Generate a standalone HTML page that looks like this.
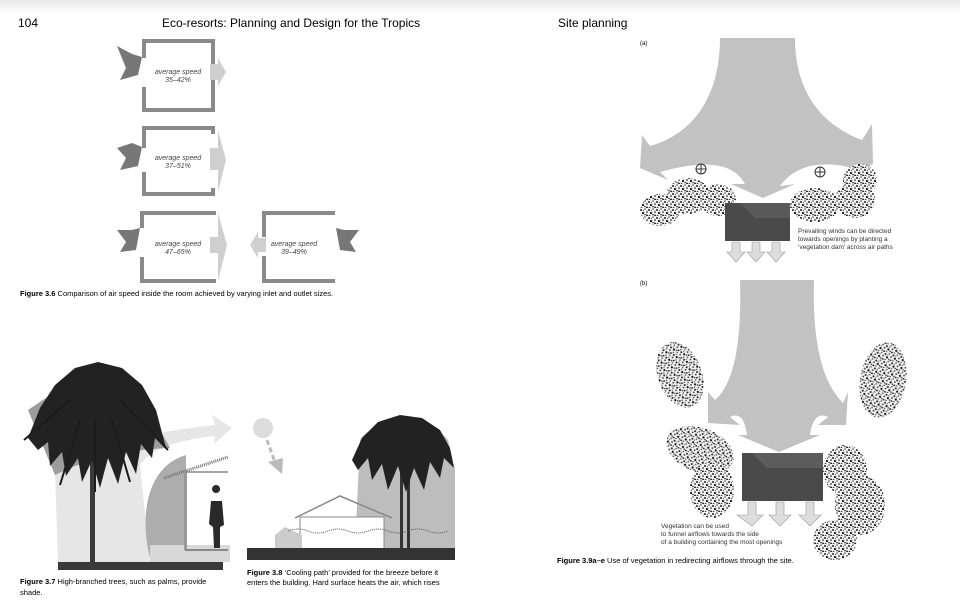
<!DOCTYPE html>
<html><head><meta charset="utf-8">
<style>
html,body{margin:0;padding:0;background:#fff;}
svg{display:block;}
text{font-family:"Liberation Sans",sans-serif;}
</style></head>
<body>
<svg width="960" height="608" viewBox="0 0 960 608" xmlns="http://www.w3.org/2000/svg">
<defs>
<linearGradient id="top" x1="0" y1="0" x2="0" y2="1"><stop offset="0" stop-color="#e8e8e8"/><stop offset="1" stop-color="#fff"/></linearGradient>
<pattern id="veg" width="8" height="8" patternUnits="userSpaceOnUse">
<rect width="8" height="8" fill="#f4f4f4"/>
<circle cx="1" cy="2" r="1" fill="#222"/><circle cx="5" cy="1" r="0.8" fill="#444"/>
<circle cx="3" cy="5" r="1.1" fill="#111"/><circle cx="7" cy="4" r="0.9" fill="#333"/>
<circle cx="7" cy="7.5" r="1" fill="#222"/><circle cx="1.5" cy="7.5" r="0.8" fill="#444"/>
<circle cx="5" cy="6.5" r="0.8" fill="#333"/><circle cx="3.5" cy="2.5" r="0.6" fill="#555"/>
</pattern>
</defs>
<rect width="960" height="608" fill="#fff"/>
<rect width="960" height="14" fill="url(#top)"/>

<text x="18" y="27" font-size="12">104</text>
<text x="162" y="27" font-size="12">Eco-resorts: Planning and Design for the Tropics</text>
<text x="558" y="27" font-size="12">Site planning</text>

<!-- Figure 3.6 -->
<g fill="#8a8a8a">
 <rect x="142" y="39" width="73" height="4"/><rect x="142" y="108" width="73" height="4"/>
 <rect x="142" y="39" width="4" height="19"/><rect x="142" y="87" width="4" height="25"/>
 <rect x="211" y="39" width="4" height="25"/><rect x="211" y="80" width="4" height="32"/>
 <rect x="142" y="126" width="73" height="4"/><rect x="142" y="192" width="73" height="4"/>
 <rect x="142" y="126" width="4" height="22"/><rect x="142" y="172" width="4" height="24"/>
 <rect x="211" y="126" width="4" height="8"/><rect x="211" y="188" width="4" height="8"/>
 <rect x="140" y="211" width="76" height="4"/><rect x="140" y="279" width="76" height="4"/>
 <rect x="140" y="211" width="4" height="17"/><rect x="140" y="257" width="4" height="26"/>
 <rect x="262" y="211" width="73" height="4"/><rect x="262" y="279" width="73" height="4"/>
 <rect x="262" y="211" width="4" height="26"/><rect x="262" y="256" width="4" height="27"/>
</g>
<g fill="#cfcfcf">
 <polygon points="210,64 218,64 218,58 226,72 218,86 218,80 210,80"/>
 <polygon points="210,148 218,148 218,130 226,160 218,192 218,170 210,170"/>
 <polygon points="210,237 218,237 218,213 227,245 218,281 218,253 210,253"/>
 <polygon points="266,238 258,238 258,232 250,245 258,258 258,252 266,252"/>
</g>
<g fill="#777">
 <polygon points="117,46 132,54 142,57 138,75 120,80 126,68"/>
 <polygon points="117,148 132,143 142,147 138,166 120,170 126,158"/>
 <polygon points="117,230 132,230 140,228 136,250 120,252 126,242"/>
 <polygon points="359,230 344,230 336,228 340,250 356,252 350,242"/>
</g>
<g font-size="7" font-style="italic" fill="#444" text-anchor="middle">
 <text x="178" y="74">average speed</text><text x="178" y="82">35–42%</text>
 <text x="178" y="160">average speed</text><text x="178" y="168">37–51%</text>
 <text x="178" y="246">average speed</text><text x="178" y="254">47–65%</text>
 <text x="294" y="246">average speed</text><text x="294" y="254">39–49%</text>
</g>
<text x="20" y="296" font-size="7.5"><tspan font-weight="bold">Figure 3.6</tspan>   Comparison of air speed inside the room achieved by varying inlet and outlet sizes.</text>

<!-- Figure 3.7 -->
<path d="M55,470 C90,445 150,432 215,425 L212,415 L232,428 L214,444 L215,436 C175,440 150,450 140,465 L150,562 L58,562 Z" fill="#e6e6e6"/>
<path d="M28,410 L80,375 L160,430 L170,448 C120,450 85,460 55,475 Z" fill="#9c9c9c"/>
<path d="M186,455 C150,465 138,510 150,558 L186,558 Z" fill="#adadad"/>
<path d="M150,545 L230,545 L230,562 L150,562Z" fill="#d8d8d8"/>
<line x1="164" y1="478" x2="228" y2="457" stroke="#777" stroke-width="3" stroke-dasharray="1,1"/>
<rect x="184" y="470" width="3" height="80" fill="#999"/>
<line x1="185" y1="472" x2="228" y2="472" stroke="#888" stroke-width="1.5"/>
<line x1="185" y1="550" x2="228" y2="550" stroke="#888" stroke-width="2"/>
<rect x="58" y="562" width="165" height="8" fill="#3a3a3a"/>
<path d="M216,493 a4,4 0 1 1 0.1,0 M211,501 L222,501 L224,525 L220,527 L220,548 L214,548 L213,527 L209,524 Z" fill="#2a2a2a"/>
<rect x="90" y="430" width="5" height="132" fill="#3a3a3a"/>
<path d="M28,438 L40,408 L55,385 L75,368 L98,362 L122,368 L142,385 L156,410 L166,448 L155,438 L152,458 L141,444 L136,474 L126,452 L118,484 L108,458 L100,488 L92,460 L82,482 L78,458 L66,476 L62,452 L50,466 L48,442 L38,450 Z" fill="#222"/>
<g stroke="#1c1c1c" stroke-width="2" fill="none">
 <path d="M70,400 L24,440"/><path d="M120,400 L168,450"/><path d="M95,420 L95,492"/>
 <path d="M80,420 L60,485"/><path d="M112,420 L130,482"/>
</g>
<text x="20" y="584" font-size="7.5"><tspan font-weight="bold">Figure 3.7</tspan>   High-branched trees, such as palms, provide</text>
<text x="20" y="595" font-size="7.5">shade.</text>

<!-- Figure 3.8 -->
<circle cx="263" cy="428" r="10" fill="#dcdcdc"/>
<line x1="267" y1="440" x2="276" y2="465" stroke="#bbb" stroke-width="3" stroke-dasharray="5,3"/>
<polygon points="268,462 282,474 283,458" fill="#bbb"/>
<path d="M360,440 C370,420 430,415 448,440 L455,470 L455,548 L355,548 Z" fill="#bdbdbd"/>
<rect x="400" y="470" width="3" height="80" fill="#333"/><rect x="407" y="470" width="3" height="80" fill="#333"/>
<path d="M352,460 L362,438 L378,422 L400,415 L422,418 L440,430 L450,448 L454,468 L444,458 L440,478 L430,462 L424,490 L414,468 L406,492 L398,466 L388,490 L382,464 L372,480 L368,458 L358,470 Z" fill="#222"/>
<rect x="300" y="517" width="84" height="33" fill="#fff" stroke="#888"/>
<polyline points="295,518 340,496 392,518" fill="none" stroke="#888" stroke-width="1.5"/>
<path d="M275,548 L275,535 L285,527 L302,535 L302,548Z" fill="#ccc"/>
<path d="M288,531 q10,-4 20,0 t20,0 t20,0 t20,0 t20,0 t20,0 t20,0 t20,0" fill="none" stroke="#555" stroke-width="1" stroke-dasharray="1,1"/>
<rect x="247" y="548" width="208" height="12" fill="#333"/>
<text x="247" y="575" font-size="7.5"><tspan font-weight="bold">Figure 3.8</tspan>   ‘Cooling path’ provided for the breeze before it</text>
<text x="247" y="585" font-size="7.5">enters the building. Hard surface heats the air, which rises</text>

<!-- Figure 3.9 (a) -->
<text x="640" y="45" font-size="6">(a)</text>
<path d="M720,38 L795,38 C795,100 830,128 862,140 L872,124 L873,164 L842,180 L852,168 C822,160 795,165 780,186 L795,184 L763,198 L731,184 L745,184 C735,165 710,158 660,172 L668,180 L640,168 L642,135 L650,146 C690,135 720,100 720,38 Z" fill="#c2c2c2"/>
<g fill="url(#veg)">
 <ellipse cx="660" cy="210" rx="20" ry="16"/><ellipse cx="688" cy="196" rx="22" ry="18"/>
 <ellipse cx="718" cy="200" rx="18" ry="16"/><ellipse cx="815" cy="205" rx="25" ry="17"/>
 <ellipse cx="855" cy="200" rx="20" ry="18"/><ellipse cx="860" cy="180" rx="17" ry="16"/>
</g>
<circle cx="701" cy="169" r="5" fill="none" stroke="#333"/><path d="M696,169h10M701,164v10" stroke="#333"/>
<circle cx="820" cy="172" r="5" fill="none" stroke="#333"/><path d="M815,172h10M820,167v10" stroke="#333"/>
<rect x="725" y="203" width="65" height="38" fill="#595959"/>
<polygon points="725,203 740,203 755,218 790,218 790,241 780,241 725,241" fill="#4a4a4a"/>
<g fill="#ddd" stroke="#999" stroke-width="0.6">
 <polygon points="732,242 740,242 740,252 745,252 736,262 727,252 732,252"/>
 <polygon points="752,242 760,242 760,252 765,252 756,262 747,252 752,252"/>
 <polygon points="772,242 780,242 780,252 785,252 776,262 767,252 772,252"/>
</g>
<g font-size="6.5" fill="#333">
 <text x="798" y="233">Prevailing winds can be directed</text>
 <text x="798" y="241">towards openings by planting a</text>
 <text x="798" y="249">‘vegetation dam’ across air paths</text>
</g>

<!-- Figure 3.9 (b) -->
<text x="640" y="285" font-size="6">(b)</text>
<path d="M740,280 L814,280 C812,350 825,385 843,403 L848,392 L846,425 L818,425 L828,417 C818,412 812,420 810,435 L820,435 L779,452 L738,435 L747,435 C745,420 740,412 730,417 L740,425 L708,423 L708,392 L715,400 C732,385 742,350 740,280 Z" fill="#c2c2c2"/>
<g fill="url(#veg)">
 <ellipse cx="680" cy="375" rx="22" ry="34" transform="rotate(-20 680 375)"/>
 <ellipse cx="883" cy="380" rx="23" ry="38" transform="rotate(10 883 380)"/>
 <ellipse cx="700" cy="450" rx="35" ry="22" transform="rotate(20 700 450)"/>
 <ellipse cx="712" cy="490" rx="22" ry="28"/>
 <ellipse cx="845" cy="470" rx="22" ry="25"/>
 <ellipse cx="860" cy="505" rx="25" ry="30"/>
 <ellipse cx="835" cy="540" rx="22" ry="20"/>
</g>
<rect x="742" y="453" width="81" height="48" fill="#5c5c5c"/>
<polygon points="742,453 752,453 767,468 823,468 823,501 742,501" fill="#4a4a4a"/>
<g fill="#ddd" stroke="#999" stroke-width="0.6">
 <polygon points="748,502 756,502 756,515 763,515 752,526 737,515 748,515"/>
 <polygon points="776,502 784,502 784,515 791,515 780,526 769,515 776,515"/>
 <polygon points="806,502 814,502 814,515 821,515 810,526 799,515 806,515"/>
</g>
<g font-size="6.5" fill="#333">
 <text x="661" y="528">Vegetation can be used</text>
 <text x="661" y="536">to funnel airflows towards the side</text>
 <text x="661" y="544">of a building containing the most openings</text>
</g>
<text x="557" y="563" font-size="7.5"><tspan font-weight="bold">Figure 3.9a–e</tspan>   Use of vegetation in redirecting airflows through the site.</text>
</svg>
</body></html>
